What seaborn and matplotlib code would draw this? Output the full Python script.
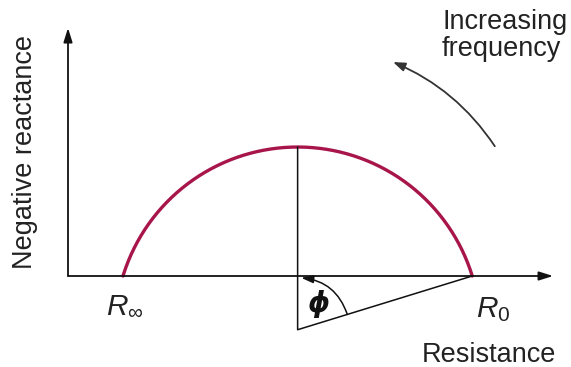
import numpy as np
import pandas as pd
import matplotlib
matplotlib.use("Agg")
import matplotlib.pyplot as plt
import seaborn as sns

# Cole-Cole parameters (arbitrary resistance units)
r_inf = 1.0
r_zero = 7.35
alpha = 0.19

axis_x_len = 8.82
axis_y_len = 4.51

x_label = "Resistance"
y_label = "Negative reactance"
freq_label = "Increasing\nfrequency"
r_inf_label = r"$R_\infty$"
r_zero_label = r"$R_0$"
phi_label = "ϕ"

ARC_COLOR = "#a8154a"
INK = "#111111"

sns.set_theme(style="white")
plt.rcParams["font.family"] = ["Liberation Sans", "DejaVu Sans"]
plt.rcParams["mathtext.fontset"] = "custom"
plt.rcParams["mathtext.rm"] = "Liberation Sans"
plt.rcParams["mathtext.it"] = "Liberation Sans:italic"

# geometry of the depressed semicircle
centre_x = (r_inf + r_zero) / 2
half_w = (r_zero - r_inf) / 2
theta = np.deg2rad((1 - alpha) * 90)
depth = half_w / np.tan(theta)
radius = half_w / np.sin(theta)
peak = radius - depth

ang = np.linspace(np.pi / 2 - theta, np.pi / 2 + theta, 200)
arc = pd.DataFrame({"x": centre_x + radius * np.cos(ang),
                    "y": -depth + radius * np.sin(ang)})

fig = plt.figure(figsize=(5.71, 3.67), dpi=100)
ax = fig.add_axes([0, 0, 1, 1])
px = 55.0
ax.set_xlim(-68 / px, (571 - 68) / px)
ax.set_ylim((276 - 367) / px, 276 / px)
ax.axis("off")

line_kw = dict(sort=False, estimator=None)
sns.lineplot(data=arc, x="x", y="y", ax=ax, color=ARC_COLOR, lw=2.4, **line_kw)

# axes with arrows
arrow_kw = dict(arrowstyle="-|>,head_length=0.7,head_width=0.22",
                color=INK, lw=1.3, shrinkA=0, shrinkB=0)
ax.annotate("", xy=(axis_x_len, 0), xytext=(0, 0), arrowprops=arrow_kw)
ax.annotate("", xy=(0, axis_y_len), xytext=(0, 0), arrowprops=arrow_kw)

# radius construction lines
radii = pd.DataFrame({"x": [centre_x, centre_x, r_zero],
                      "y": [peak, -depth, 0]})
sns.lineplot(data=radii, x="x", y="y", ax=ax, color=INK, lw=1.1, **line_kw)

# angle phi arc
a_r = 0.945
a0 = np.arctan2(depth, r_zero - centre_x)
a1 = np.deg2rad(86)
ax.annotate("", xy=(centre_x + a_r * np.cos(a1), -depth + a_r * np.sin(a1)),
            xytext=(centre_x + a_r * np.cos(a0), -depth + a_r * np.sin(a0)),
            arrowprops=dict(arrowstyle="-|>,head_length=0.6,head_width=0.2",
                            color=INK, lw=1.1, shrinkA=0, shrinkB=0,
                            connectionstyle="arc3,rad=0.32"))
ax.text(centre_x + 0.37, -depth + 0.46, phi_label, fontsize=20,
        fontweight="bold", style="italic", family="DejaVu Sans",
        ha="center", va="center", color=INK)

# increasing frequency arrow
ax.annotate("", xy=(5.91, 3.89), xytext=(7.76, 2.36),
            arrowprops=dict(arrowstyle="-|>,head_length=0.6,head_width=0.22",
                            color="#333333", lw=1.3, shrinkA=0, shrinkB=0,
                            connectionstyle="arc3,rad=0.15"))

fs = 19.5
ax.text(6.8, 4.86, freq_label, fontsize=fs, ha="left", va="top",
        linespacing=1.05, color="#222222")
ax.text(-0.78, axis_y_len / 2, y_label, fontsize=fs, rotation=90,
        ha="center", va="center", color="#222222")
ax.text(7.65, -1.57, x_label, fontsize=fs, ha="center", va="baseline",
        color="#222222")
ax.text(r_inf - 0.31, -0.67, r_inf_label, fontsize=fs + 2, ha="left",
        va="baseline", color="#222222")
ax.text(r_zero + 0.07, -0.745, r_zero_label, fontsize=fs + 2, ha="left",
        va="baseline", color="#222222")

fig.savefig("out.png", dpi=100)
plt.close(fig)
